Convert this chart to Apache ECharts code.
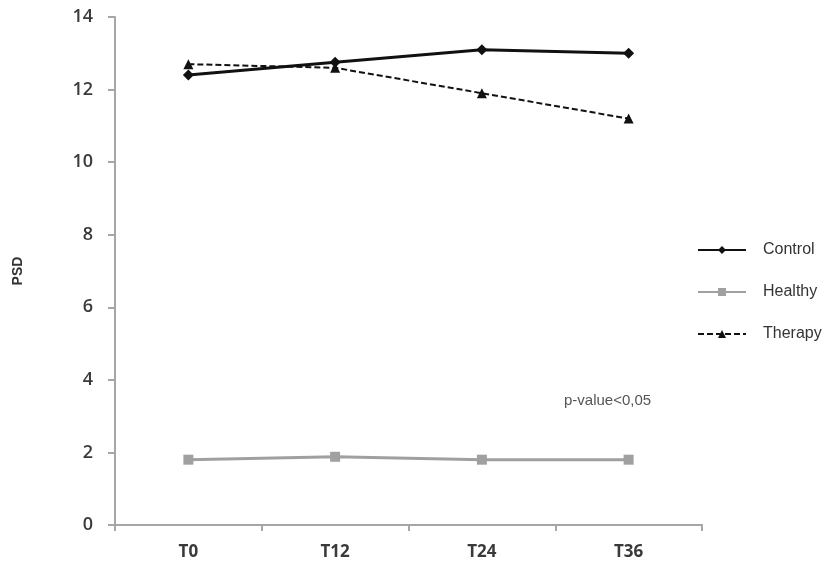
<!DOCTYPE html>
<html>
<head>
<meta charset="utf-8">
<script src="https://cdn.jsdelivr.net/npm/echarts@6/dist/echarts.min.js"></script>
<style>
  html, body { margin: 0; padding: 0; background: #fff; }
  #chart { width: 828px; height: 571px; }
</style>
</head>
<body>
<div id="chart"></div>
<script>
// Time points and PSD values per group
const categories = ['T0', 'T12', 'T24', 'T36'];
const controlValues = [12.4, 12.75, 13.1, 13.0];
const healthyValues = [1.8, 1.88, 1.8, 1.8];
const therapyValues = [12.7, 12.6, 11.9, 11.2];
const yTicks = { min: 0, max: 14, interval: 2 };
const yAxisName = 'PSD';
const noteText = 'p-value<0,05';

const chart = echarts.init(document.getElementById('chart'), null, { renderer: 'canvas' });

const axisGray = '#a6a6a6';
const labelFont = 'Liberation Sans, Arial, sans-serif';

chart.setOption({
  animation: false,
  backgroundColor: '#ffffff',
  grid: { left: 115, right: 126, top: 17, bottom: 46, containLabel: false },
  legend: {
    orient: 'vertical',
    left: 692,
    top: 237,
    itemWidth: 48,
    itemHeight: 10,
    itemGap: 26,
    textStyle: { fontFamily: labelFont, fontSize: 16, color: '#333333', padding: [0, 0, 0, 12] },
    data: ['Control', 'Healthy', 'Therapy']
  },
  xAxis: {
    type: 'category',
    data: categories,
    boundaryGap: true,
    axisLine: { lineStyle: { color: axisGray, width: 2 } },
    axisTick: { show: true, length: 6, inside: false, lineStyle: { color: axisGray, width: 2 } },
    axisLabel: { fontFamily: 'Open Sans, sans-serif', fontSize: 17, fontWeight: 'bold', color: '#3a3a3a', margin: 19 },
    splitLine: { show: false }
  },
  yAxis: {
    type: 'value',
    min: yTicks.min,
    max: yTicks.max,
    interval: yTicks.interval,
    name: yAxisName,
    nameLocation: 'middle',
    nameGap: 90,
    nameRotate: 90,
    nameTextStyle: { fontFamily: labelFont, fontSize: 14, fontWeight: 'bold', color: '#333333' },
    axisLine: { show: true, lineStyle: { color: axisGray, width: 2 } },
    axisTick: { show: true, length: 7, lineStyle: { color: axisGray, width: 2 } },
    axisLabel: { fontFamily: 'Open Sans, sans-serif', fontSize: 18, fontWeight: 600, color: '#3a3a3a', margin: 22 },
    splitLine: { show: false }
  },
  series: [
    {
      name: 'Control',
      type: 'line',
      data: controlValues,
      symbol: 'diamond',
      symbolSize: 11,
      itemStyle: { color: '#111111' },
      lineStyle: { color: '#111111', width: 3 },
      z: 3
    },
    {
      name: 'Healthy',
      type: 'line',
      data: healthyValues,
      symbol: 'rect',
      symbolSize: 10,
      itemStyle: { color: '#a0a0a0' },
      lineStyle: { color: '#a0a0a0', width: 3 },
      z: 2
    },
    {
      name: 'Therapy',
      type: 'line',
      data: therapyValues,
      symbol: 'triangle',
      symbolSize: 10,
      itemStyle: { color: '#111111' },
      lineStyle: { color: '#111111', width: 2, type: [6, 3] },
      z: 4
    }
  ],
  graphic: [
    {
      type: 'text',
      left: 564,
      top: 393,
      style: { text: noteText, fontFamily: labelFont, fontSize: 15, fill: '#555555' }
    }
  ]
});
</script>
</body>
</html>
